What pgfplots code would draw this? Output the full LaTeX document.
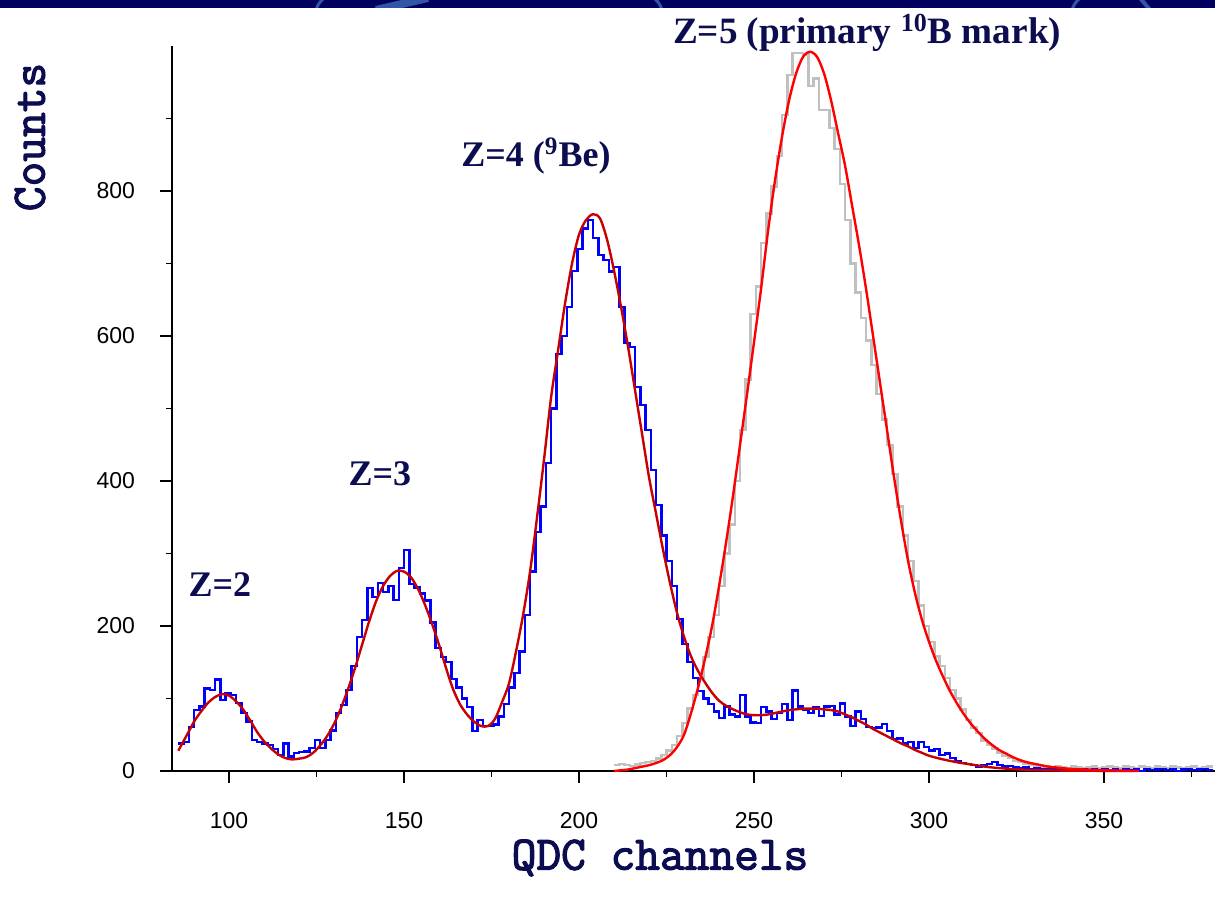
\documentclass[border=0pt]{standalone}
\usepackage{fontspec}
\setmainfont{Liberation Serif}
\newfontfamily\sansf{Liberation Sans}
\newfontfamily\cour[FakeBold=2.5]{Latin Modern Mono}
\usepackage{pgfplots}
\pgfplotsset{compat=1.18}
\definecolor{navytxt}{RGB}{12,12,80}
\definecolor{band}{RGB}{0,0,95}
\definecolor{bandl}{RGB}{50,85,165}
\definecolor{fitdark}{RGB}{200,0,0}
\definecolor{fitred}{RGB}{255,0,0}
\definecolor{grayh}{RGB}{192,192,192}
\begin{document}
\begin{tikzpicture}
\useasboundingbox (0,0) rectangle (607.5pt,449pt);
\fill[band] (0,445pt) rectangle (607.5pt,449pt);
\begin{scope}
\clip (0,445pt) rectangle (607.5pt,449pt);
\draw[bandl, line width=1.5pt] (158pt,444pt) to[bend left=15] (162pt,450pt);
\draw[bandl, line width=4pt] (188pt,444pt) -- (214pt,450pt);
\draw[bandl, line width=1.5pt] (327pt,450pt) to[bend left=15] (331pt,444pt);
\draw[bandl, line width=1.5pt] (536pt,444pt) to[bend left=15] (540pt,450pt);
\draw[bandl, line width=2pt] (570pt,450pt) -- (575pt,444pt);
\end{scope}
\begin{axis}[
  at={(86pt,63.5pt)}, anchor=south west,
  scale only axis, width=521.5pt, height=362.5pt,
  xmin=83.7, xmax=381.7, ymin=0, ymax=1000,
  axis x line*=bottom, axis y line*=left,
  axis line style={-, line width=1pt, black},
  every outer x axis line/.append style={-},
  every outer y axis line/.append style={-},
  tick align=outside, major tick length=6pt, minor tick length=3pt,
  xtick={100,150,...,350}, minor xtick={125,175,...,375},
  ytick={0,200,...,800}, minor ytick={100,300,...,900},
  tick style={black, line width=0.6pt},
  clip=false,
  /pgf/number format/assume math mode=true,
  ticklabel style={font=\sansf\fontsize{11.5}{13}\selectfont, black},
  xticklabel style={yshift=-11pt},
  yticklabel style={xshift=-9pt},
]
% gray histogram (primary 10B)
\addplot[const plot, grayh, line width=1.2pt] coordinates {
(210,8) (211.5,10) (213,8) (214.5,7) (216,9) (217.5,11) (219,12) (220.5,14) (222,17) (223.5,22)
(225,28) (226.5,36) (228,48) (229.5,66) (231,86) (232.5,105) (234,128) (235.5,157) (237,185) (238.5,215)
(240,255) (241.5,300) (243,340) (244.5,400) (246,470) (247.5,540) (249,630) (250.5,668) (252,728) (253.5,769)
(255,806) (256.5,848) (258,905) (259.5,960) (261,990) (262.5,990) (264,988) (265.5,945) (267,955) (268.5,912)
(270,912) (271.5,887) (273,858) (274.5,810) (276,760) (277.5,700) (279,660) (280.5,625) (282,594) (283.5,560)
(285,520) (286.5,485) (288,450) (289.5,410) (291,365) (292.5,325) (294,290) (295.5,262) (297,228) (298.5,200)
(300,178) (301.5,158) (303,145) (304.5,128) (306,112) (307.5,100) (309,85) (310.5,70) (312,60) (313.5,52)
(315,42) (316.5,36) (318,31) (319.5,25) (321,21) (322.5,18) (324,14) (325.5,12) (327,10) (328.5,8)
(330,7) (331.5,6) (333,7) (334.5,5) (336,6) (337.5,5) (339,4) (340.5,6) (342,5) (343.5,4)
(345,5) (346.5,6) (348,4) (349.5,5) (351,6) (352.5,5) (354,4) (355.5,6) (357,5) (358.5,4)
(360,6) (361.5,5) (363,4) (364.5,6) (366,5) (367.5,4) (369,6) (370.5,5) (372,4) (373.5,5)
(375,6) (376.5,4) (378,5) (379.5,6) (381,6)
};
% blue histogram (9Be)
\addplot[const plot, blue, line width=1.2pt] coordinates {
(85.5,38) (87,40) (88.5,61) (90,84) (91.5,89) (93,114) (94.5,112) (96,126) (97.5,98) (99,107)
(100.5,105) (102,94) (103.5,80) (105,68) (106.5,43) (108,40) (109.5,38) (111,36) (112.5,30) (114,22)
(115.5,38) (117,20) (118.5,25) (120,26) (121.5,27) (123,32) (124.5,43) (126,32) (127.5,43) (129,56)
(130.5,80) (132,91) (133.5,112) (135,145) (136.5,185) (138,208) (139.5,252) (141,240) (142.5,259) (144,247)
(145.5,255) (147,236) (148.5,280) (150,305) (151.5,258) (153,253) (154.5,245) (156,235) (157.5,205) (159,170)
(160.5,157) (162,150) (163.5,127) (165,115) (166.5,100) (168,88) (169.5,55) (171,70) (172.5,62) (174,62)
(175.5,64) (177,75) (178.5,92) (180,115) (181.5,135) (183,165) (184.5,215) (186,275) (187.5,330) (189,365)
(190.5,425) (192,500) (193.5,575) (195,600) (196.5,640) (198,690) (199.5,720) (201,748) (202.5,760) (204,735)
(205.5,712) (207,705) (208.5,689) (210,695) (211.5,640) (213,590) (214.5,585) (216,530) (217.5,505) (219,470)
(220.5,415) (222,367) (223.5,325) (225,290) (226.5,255) (228,210) (229.5,175) (231,150) (232.5,128) (234,110)
(235.5,100) (237,92) (238.5,82) (240,73) (241.5,89) (243,78) (244.5,75) (246,105) (247.5,75) (249,67)
(250.5,66) (252,88) (253.5,82) (255,72) (256.5,80) (258,92) (259.5,70) (261,111) (262.5,89) (264,84)
(265.5,80) (267,88) (268.5,76) (270,89) (271.5,90) (273,78) (274.5,93) (276,75) (277.5,62) (279,82)
(280.5,72) (282,61) (283.5,59) (285,60) (286.5,65) (288,55) (289.5,44) (291,45) (292.5,38) (294,40)
(295.5,32) (297,40) (298.5,33) (300,28) (301.5,30) (303,22) (304.5,24) (306,18) (307.5,14) (309,11)
(310.5,10) (312,8) (313.5,6) (315,8) (316.5,10) (318,12) (319.5,8) (321,6) (322.5,7) (324,5)
(325.5,4) (327,5) (328.5,3) (330,4) (331.5,2) (333,3) (334.5,2) (336,3) (337.5,2) (339,1)
(340.5,2) (342,1) (343.5,2) (345,1) (346.5,3) (348,1) (349.5,2) (351,1) (352.5,2) (354,0)
(355.5,3) (357,1) (358.5,2) (360,0) (361.5,3) (363,1) (364.5,2) (366,3) (367.5,1) (369,2)
(370.5,0) (372,2) (373.5,3) (375,1) (376.5,2) (378,3) (379.5,1) (381,1)
};
% fit of the blue spectrum
\addplot[smooth, fitdark, line width=1.2pt] coordinates {
(85.5,28) (88,50) (90,68) (92,82) (94,94) (96,102) (98,106) (100,104) (102,96) (104,85)
(106,70) (108,54) (110,41) (112,31) (114,23) (116,18) (118,16) (120,17) (122,19) (124,25)
(126,35) (128,48) (130,65) (132,87) (134,113) (136,142) (138,174) (140,206) (142,234) (144,255)
(146,269) (148,276) (150,275) (152,267) (154,251) (156,229) (158,203) (160,174) (162,142) (164,113)
(166,92) (168,78) (170,68) (172,62) (174,62) (176,72) (178,95) (180,121) (182,165) (184,215)
(186,275) (188,350) (190,430) (192,515) (194,580) (196,645) (198,700) (200,740) (202,760) (204,768)
(206,762) (208,733) (210,690) (212,640) (214,585) (216,525) (218,465) (220,405) (222,355) (224,305)
(226,259) (228,218) (230,185) (232,158) (234,138) (236,122) (238,108) (240,97) (242,90) (244,85)
(246,81) (248,78) (250,77) (252,77) (254,78) (256,80) (258,82) (260,84) (262,85) (264,86)
(266,86) (268,86) (270,85) (272,84) (274,82) (276,78) (278,74) (280,69) (282,64) (284,58)
(286,53) (288,48) (290,43) (292,38) (294,34) (296,29) (298,25) (300,21) (304,16) (308,12)
(312,9) (316,6) (320,4) (326,2) (332,1) (340,0.5) (358,0)
};
% fit of the primary 10B peak
\addplot[smooth, fitred, line width=1.2pt] coordinates {
(210,0) (212,1) (214,2) (216,4) (218,6) (220,8) (222,11) (224,15) (226,22) (228,33)
(230,50) (232,80) (234,115) (236,155) (238,200) (240,255) (242,315) (244,380) (246,450) (248,520)
(250,592) (252,665) (254,745) (256,815) (258,875) (260,925) (262,962) (264,985) (266,992) (268,985)
(270,962) (272,925) (274,880) (276,835) (278,780) (280,725) (282,665) (284,600) (286,535) (288,470)
(290,405) (292,345) (294,290) (296,245) (298,208) (300,178) (302,152) (304,130) (306,110) (308,93)
(310,78) (312,65) (314,54) (316,44) (318,36) (320,29) (322,24) (324,19) (326,15) (328,12)
(330,10) (332,8) (334,6) (336,5) (338,4) (340,3) (345,2) (350,1) (355,0.5) (360,0)
};
\node[font=\bfseries\fontsize{18}{20}\selectfont, text=navytxt] at (axis cs:97.4,257) {Z=2};
\node[font=\bfseries\fontsize{18}{20}\selectfont, text=navytxt] at (axis cs:143.1,410) {Z=3};
\node[font=\bfseries\fontsize{18}{20}\selectfont, text=navytxt] at (axis cs:187.7,848) {Z=4 (\textsuperscript{9}Be)};
\node[font=\bfseries\fontsize{18.6}{20}\selectfont, text=navytxt] at (axis cs:282.3,1018) {Z=5 (primary \textsuperscript{10}B mark)};
\end{axis}
\node[rotate=90, font=\cour\fontsize{24}{26}\selectfont, text=navytxt] at (15pt,380.5pt) {Counts};
\node[font=\cour\fontsize{24}{26}\selectfont, text=navytxt] at (330pt,20pt) {QDC channels};
\end{tikzpicture}
\end{document}
